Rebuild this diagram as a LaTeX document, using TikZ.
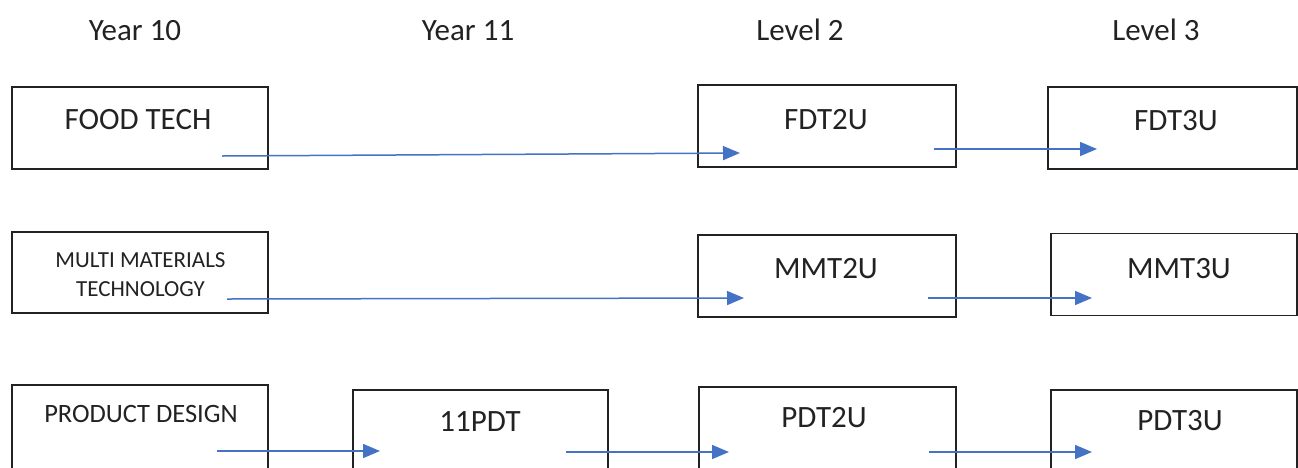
\documentclass[tikz,border=0pt]{standalone}
\usepackage{fontspec}
\setmainfont{Carlito}
\usetikzlibrary{arrows.meta,calc}
\definecolor{arrowblue}{HTML}{4472C4}
\definecolor{ink}{HTML}{222222}
\begin{document}
\begin{tikzpicture}[x=1pt,y=-1pt,
  box/.style={draw=ink, line width=1.6pt, rectangle, inner sep=0pt, minimum height=82pt},
  hdr/.style={font=\fontsize{31}{37}\selectfont, anchor=base, text=ink, inner sep=0pt},
  lbl/.style={font=\fontsize{31}{37}\selectfont, text=ink, inner sep=0pt, align=center},
  flow/.style={draw=arrowblue, line width=1.5pt, -{Triangle[length=17pt,width=14pt]}}
]
\useasboundingbox (0,0) rectangle (1298,467);
\clip (0,0) rectangle (1298,467);

% headers
\node[hdr] (h10) at (135,40) {Year 10};
\node[hdr] (h11) at (468,40) {Year 11};
\node[hdr] (hl2) at (800,40) {Level 2};
\node[hdr] (hl3) at (1156,40) {Level 3};

% row 1
\node[box, minimum width=256pt, label={[lbl, xshift=-2pt, yshift=8pt]center:FOOD TECH}] (ft) at (140,128) {};
\node[box, minimum width=258pt, label={[lbl, xshift=-1pt, yshift=6.5pt]center:FDT2U}] (fdt2) at (827,126) {};
\node[box, minimum width=249pt, label={[lbl, xshift=3.5pt, yshift=7pt]center:FDT3U}] (fdt3) at (1172.5,128) {};

% row 2
\node[box, minimum width=256pt, minimum height=81pt, label={[lbl, font=\fontsize{23}{29}\selectfont, xshift=0.5pt, yshift=-2pt]center:MULTI MATERIALS\\TECHNOLOGY}] (mm) at (140,272.5) {};
\node[box, minimum width=258pt, label={[lbl, xshift=-1pt, yshift=7.5pt]center:MMT2U}] (mmt2) at (827,276) {};
\node[box, minimum width=246pt, label={[lbl, xshift=5pt, yshift=6pt]center:MMT3U}] (mmt3) at (1174,274.5) {};

% row 3
\node[box, minimum width=256pt, minimum height=87pt, label={[lbl, font=\fontsize{26.5}{32}\selectfont, xshift=1pt, yshift=14.5pt]center:PRODUCT DESIGN}] (pd) at (140,428.5) {};
\node[box, minimum width=255pt, label={[lbl, xshift=-0.5pt, yshift=9pt]center:11PDT}] (pdt11) at (480.5,431) {};
\node[box, minimum width=257pt, minimum height=85pt, label={[lbl, xshift=-3.5pt, yshift=11.5pt]center:PDT2U}] (pdt2) at (827.5,429.5) {};
\node[box, minimum width=246pt, label={[lbl, xshift=6pt, yshift=10pt]center:PDT3U}] (pdt3) at (1174,431) {};

% connector end points
\coordinate (ft-o) at ($(ft.center)+(82,28)$);
\coordinate (fdt2-i) at ($(fdt2.center)+(-87,27)$);
\coordinate (fdt2-o) at ($(fdt2.center)+(107,23)$);
\coordinate (fdt3-i) at ($(fdt3.center)+(-75.5,21)$);
\coordinate (mm-o) at ($(mm.center)+(87,26.5)$);
\coordinate (mmt2-i) at ($(mmt2.center)+(-83,22)$);
\coordinate (mmt2-o) at ($(mmt2.center)+(101,22)$);
\coordinate (mmt3-i) at ($(mmt3.center)+(-82,23.5)$);
\coordinate (pd-o) at ($(pd.center)+(77,22.5)$);
\coordinate (pdt11-i) at ($(pdt11.center)+(-100.5,20)$);
\coordinate (pdt11-o) at ($(pdt11.center)+(85.5,21)$);
\coordinate (pdt2-i) at ($(pdt2.center)+(-98.5,22.5)$);
\coordinate (pdt2-o) at ($(pdt2.center)+(101.5,22.5)$);
\coordinate (pdt3-i) at ($(pdt3.center)+(-82,21)$);

% connectors
\draw[flow] (ft-o) -- (fdt2-i);
\draw[flow] (fdt2-o) -- (fdt3-i);
\draw[flow] (mm-o) -- (mmt2-i);
\draw[flow] (mmt2-o) -- (mmt3-i);
\draw[flow] (pd-o) -- (pdt11-i);
\draw[flow] (pdt11-o) -- (pdt2-i);
\draw[flow] (pdt2-o) -- (pdt3-i);
\end{tikzpicture}
\end{document}
